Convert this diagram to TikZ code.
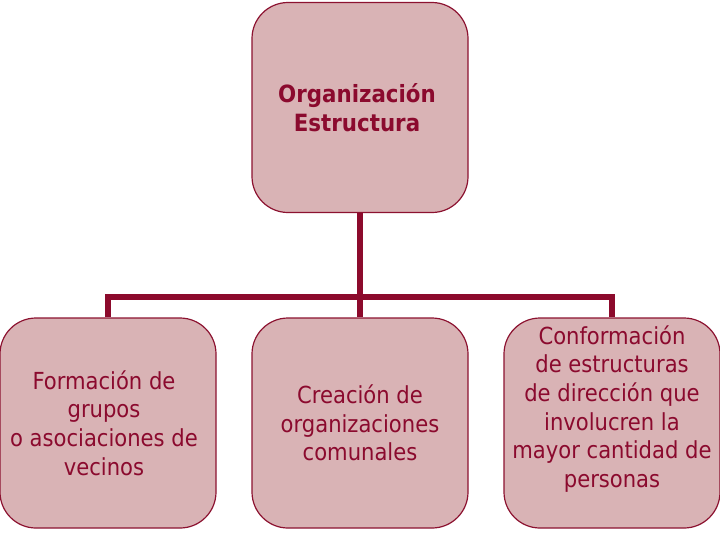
\documentclass[tikz,border=0pt]{standalone}
\usepackage{fontspec}
\setmainfont{DejaVu Sans Condensed}
\definecolor{boxfill}{HTML}{D9B3B5}
\definecolor{boxline}{HTML}{8C1230}
\definecolor{txt}{HTML}{8B0A2E}
\definecolor{conn}{HTML}{8C0A2C}
\tikzset{
  px/.style={x=0.75pt,y=-0.75pt},
  card/.style={draw=boxline, line width=0.9pt, fill=boxfill, rounded corners=27pt,
    minimum width=162pt, minimum height=157.5pt, inner sep=0pt},
  cardtext/.style={text=txt, align=center, font=\fontsize{17.6}{21.5}\selectfont},
  link/.style={draw=conn, line width=4.5pt}
}
\begin{document}
\begin{tikzpicture}[px]
\useasboundingbox (0,0) rectangle (720,540);
\node[card] (top) at (360,107.5) {};
\node[card] (l) at (108,423) {};
\node[card] (m) at (360,423) {};
\node[card] (r) at (612,423) {};
\node[cardtext, font=\fontsize{17.8}{21.5}\selectfont\bfseries] (ttop) at (357,108) {Organización\\ Estructura};
\node[cardtext] (tl) at (104,423) {Formación de\\ grupos\\ o asociaciones de\\ vecinos};
\node[cardtext] (tm) at (360,423) {Creación de\\ organizaciones\\ comunales};
\node[cardtext] (tr) at (612,409) {Conformación\\ de estructuras\\ de dirección que\\ involucren la\\ mayor cantidad de\\ personas};
\coordinate (j) at (360,297);
\coordinate (jl) at (108,297);
\coordinate (jr) at (612,297);
\draw[link] (top.south) -- (j);
\draw[link, line join=miter] (l.north -| jl) -- (jl) -- (jr) -- (r.north -| jr);
\draw[link] (j) -- (m.north);
\end{tikzpicture}
\end{document}
